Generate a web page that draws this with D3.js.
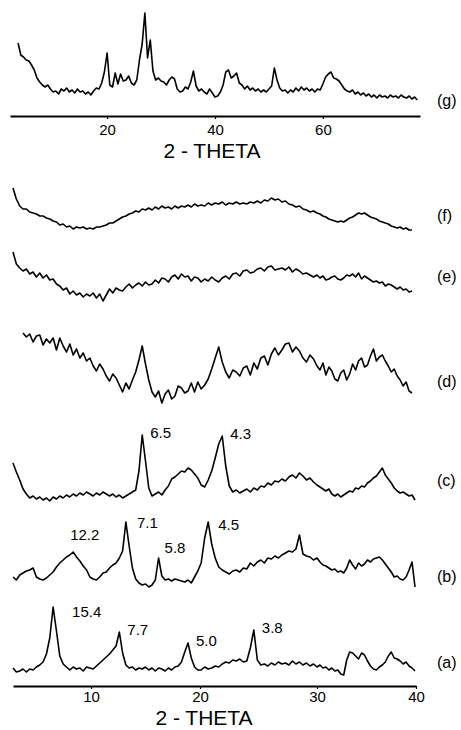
<!DOCTYPE html>
<html>
<head>
<meta charset="utf-8">
<script src="https://cdn.jsdelivr.net/npm/d3@7"></script>
<style>
  body { margin: 0; background: #fff; }
  text { font-family: "Liberation Sans", Arial, Helvetica, sans-serif; fill: #000; }
</style>
</head>
<body>
<div id="chart"></div>
<script>
// 2-theta sampling of the stacked patterns (a)-(f)
const step = 0.3;
const traceNames = ["(a)", "(b)", "(c)", "(d)", "(e)", "(f)"];
const traceStart = [3.0, 3.0, 3.0, 3.9, 3.0, 3.0];
const traceOffset = [0, 90, 170, 270, 380, 450];

const traceA = [
  18,14,15,17,14,17,16,19,21,24,
  32,48,79,55,30,22,19,16,19,17,
  18,15,19,18,17,20,23,26,29,32,
  36,40,54,33,21,18,19,16,18,17,
  19,16,18,15,18,17,15,18,16,19,
  20,24,34,43,28,19,16,16,19,17,
  18,20,19,22,24,23,26,25,27,24,
  25,38,56,26,21,22,20,23,21,24,
  22,23,21,25,22,24,21,23,20,22,
  19,21,18,19,16,18,15,16,12,11,
  26,34,33,30,27,33,31,25,20,17,
  16,19,21,24,30,34,28,27,25,22,
  24,20,18,15
];
const traceB = [
  19,16,21,23,25,26,28,19,17,16,
  18,21,24,29,33,36,39,41,44,39,
  35,30,26,19,17,16,19,23,24,28,
  31,33,38,45,74,50,28,17,13,11,
  12,9,11,16,38,20,16,17,15,17,
  16,15,14,16,13,19,25,33,58,74,
  52,38,29,26,24,22,25,26,24,28,
  27,33,30,34,36,33,38,37,40,38,
  41,43,45,44,47,61,42,40,39,36,
  38,34,31,30,28,26,27,24,25,23,
  28,36,31,27,33,30,32,36,34,37,
  38,39,36,32,28,24,19,20,17,16,
  19,26,34,9
];
const traceC = [
  53,44,36,27,22,18,20,17,19,16,
  18,15,19,17,20,18,21,19,22,20,
  23,21,24,22,20,23,21,24,22,20,
  22,19,21,18,20,22,24,26,45,81,
  55,28,20,22,24,21,26,30,37,39,
  42,45,44,48,46,42,38,31,29,36,
  45,58,72,80,50,30,24,26,23,25,
  27,24,28,26,30,29,33,31,35,34,
  37,35,39,41,38,43,40,36,38,34,
  31,29,27,25,27,22,20,22,19,21,
  23,25,24,28,27,30,29,33,35,38,
  40,44,48,41,37,33,28,25,23,24,
  22,20,21,16
];
const traceD = [
  83,79,82,74,80,81,71,77,73,78,
  66,78,70,64,72,61,67,58,63,55,
  58,50,45,52,47,40,35,42,38,31,
  24,33,27,36,44,56,70,52,36,24,
  19,25,13,22,26,17,20,30,28,23,
  25,33,24,34,27,31,37,47,58,69,
  54,44,38,46,44,40,48,50,41,53,
  47,58,60,51,62,68,61,66,72,73,
  64,69,65,58,54,61,57,50,46,53,
  41,49,45,37,35,43,46,36,42,52,
  46,55,58,49,51,60,67,55,59,61,
  55,50,44,47,40,36,30,34,25,23
];
const traceE = [
  54,42,38,35,37,32,34,29,33,28,
  31,26,27,22,20,16,18,12,15,11,
  13,9,12,10,13,8,12,5,11,17,
  13,18,16,15,19,22,18,21,23,20,
  24,21,22,26,23,28,27,24,29,31,
  27,32,29,30,25,29,28,24,27,25,
  29,26,24,28,30,27,32,33,30,35,
  36,33,34,37,38,35,39,40,36,37,
  38,36,39,34,37,35,32,33,31,29,
  31,28,30,26,27,29,30,27,26,28,
  31,30,32,29,33,27,30,28,26,24,
  25,23,24,20,22,21,19,17,19,16,
  17,14,15
];
const traceF = [
  48,37,30,27,27,24,23,22,20,20,
  18,17,15,14,11,12,9,10,7,9,
  8,9,7,8,7,9,9,10,11,13,
  13,15,17,19,20,22,23,25,24,27,
  26,28,26,29,27,30,28,29,27,30,
  28,30,29,31,29,32,30,31,30,33,
  31,33,32,34,31,33,32,34,32,33,
  32,34,33,35,33,36,35,38,36,37,
  34,35,32,31,29,30,27,26,24,25,
  23,22,20,19,17,16,15,14,15,14,
  16,18,19,21,23,22,23,21,19,18,
  17,15,14,13,12,10,9,8,9,7,
  8,6,6
];

// pattern (g), wide-angle scan
const gStart = 3.5;
const gStep = 0.5;
const traceG = [
  73,61,59,56,55,51,46,38,34,31,
  29,31,27,24,25,22,27,25,28,24,
  26,23,27,24,25,22,24,21,25,28,
  27,33,44,63,31,29,43,32,42,35,
  36,40,33,31,36,56,72,103,58,76,
  45,36,38,35,34,31,36,39,37,27,
  24,25,29,27,34,45,30,25,27,24,
  22,27,23,19,20,24,31,44,46,38,
  40,43,33,31,27,30,26,28,25,27,
  24,26,24,27,30,48,36,28,25,26,
  23,26,24,28,25,29,26,28,25,27,
  24,27,26,32,39,42,44,38,37,35,
  31,27,25,24,26,22,24,21,23,20,
  22,19,21,18,21,19,20,18,21,19,
  20,18,21,19,18,20,17,19,16
];

const bottomTicks = [10, 20, 30, 40];
const topTicks = [20, 40, 60];

// d-spacing labels (Å) at their peaks
const peaksA = [["15.4", 6.6], ["7.7", 12.6], ["5.0", 18.9], ["3.8", 24.6]];
const peaksB = [["12.2", 8.4], ["7.1", 13.2], ["5.8", 16.2], ["4.5", 20.7]];
const peaksC = [["6.5", 14.7], ["4.3", 21.9]];

const traces = [traceA, traceB, traceC, traceD, traceE, traceF];
const peakSets = [peaksA, peaksB, peaksC];

const svg = d3.select("#chart").append("svg")
  .attr("width", 461).attr("height", 730);

const xTop = d3.scaleLinear().domain([2, 78]).range([10, 420]);
const yTop = d3.scaleLinear().domain([0, 110]).range([116, 6]);
// the hand-drawn axis of the lower panel is slightly uneven
const xBot = d3.scaleLinear().domain([3, 10, 20, 30, 40]).range([13, 91, 200, 317, 416]);
const yBot = d3.scaleLinear().domain([0, 540]).range([686, 146]);

// top panel
const lineG = d3.line()
  .x((v, i) => xTop(gStart + i * gStep))
  .y(v => yTop(v));
svg.append("path").datum(traceG)
  .attr("d", lineG).attr("fill", "none")
  .attr("stroke", "#000").attr("stroke-width", 1.6).attr("stroke-linejoin", "round");

function styleAxis(g, labelY, size) {
  g.attr("font-family", null).attr("font-size", null);
  g.select(".domain").attr("stroke", "#000").attr("stroke-width", 2);
  g.selectAll(".tick line").attr("stroke", "#000").attr("stroke-width", 1.2);
  g.selectAll(".tick text").attr("y", labelY).attr("dy", null)
    .style("font-size", size + "px");
}

const axTop = svg.append("g").attr("transform", "translate(0,116)")
  .call(d3.axisBottom(xTop).tickValues(topTicks).tickSize(3).tickSizeOuter(0));
styleAxis(axTop, 19, 15);

svg.append("text").attr("x", 212).attr("y", 158)
  .attr("text-anchor", "middle").style("font-size", "21px").text("2 - THETA");

svg.append("text").attr("x", 437).attr("y", yTop(15) + 5)
  .style("font-size", "16px").text("(g)");

// lower panel, stacked traces
traces.forEach((vals, k) => {
  const line = d3.line()
    .x((v, i) => xBot(traceStart[k] + i * step))
    .y(v => yBot(v + traceOffset[k]));
  svg.append("path").datum(vals)
    .attr("d", line).attr("fill", "none")
    .attr("stroke", "#000").attr("stroke-width", 1.6).attr("stroke-linejoin", "round");
});

const labelLevel = [23, 19, 35, 34, 29, 20];
traceNames.forEach((name, k) => {
  svg.append("text").attr("x", 437).attr("y", yBot(traceOffset[k] + labelLevel[k]) + 5)
    .style("font-size", "16px").text(name);
});

const nudge = { "15.4": [19, 10], "12.2": [-3, -12], "5.8": [6, -5], "7.1": [11, 6], "4.5": [10, 8] };
peakSets.forEach((peaks, k) => {
  peaks.forEach(([txt, theta]) => {
    const i = Math.round((theta - traceStart[k]) / step);
    const v = traces[k][i];
    const [dx, dy] = nudge[txt] || [8, 3];
    svg.append("text")
      .attr("x", xBot(theta) + dx)
      .attr("y", yBot(v + traceOffset[k]) + dy)
      .style("font-size", "15px").text(txt);
  });
});

const axBot = svg.append("g").attr("transform", "translate(0,686)")
  .call(d3.axisBottom(xBot).tickValues(bottomTicks).tickSize(3).tickSizeOuter(0));
styleAxis(axBot, 16, 15);

svg.append("text").attr("x", 204).attr("y", 725)
  .attr("text-anchor", "middle").style("font-size", "21px").text("2 - THETA");
</script>
</body>
</html>
